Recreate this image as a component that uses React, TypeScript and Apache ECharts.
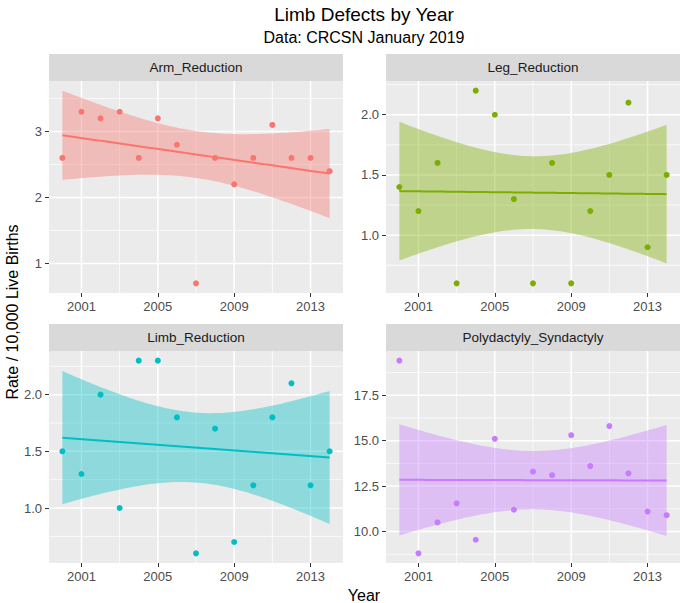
import React, { useEffect, useRef } from "react";
import * as echarts from "echarts";

// ---- data ----
const years = [2000, 2001, 2002, 2003, 2004, 2005, 2006, 2007, 2008, 2009, 2010, 2011, 2012, 2013, 2014];
const armReduction = [2.6, 3.3, 3.2, 3.3, 2.6, 3.2, 2.8, 0.7, 2.6, 2.2, 2.6, 3.1, 2.6, 2.6, 2.4];
const legReduction = [1.4, 1.2, 1.6, 0.6, 2.2, 2.0, 1.3, 0.6, 1.6, 0.6, 1.2, 1.5, 2.1, 0.9, 1.5];
const limbReduction = [1.5, 1.3, 2.0, 1.0, 2.3, 2.3, 1.8, 0.6, 1.7, 0.7, 1.2, 1.8, 2.1, 1.2, 1.5];
const polydactylySyndactyly = [19.4, 8.8, 10.5, 11.55, 9.55, 15.1, 11.2, 13.3, 13.1, 15.3, 13.6, 15.8, 13.2, 11.1, 10.9];

const panelNames = ["Arm_Reduction", "Leg_Reduction", "Limb_Reduction", "Polydactyly_Syndactyly"];
const panelValues = [armReduction, legReduction, limbReduction, polydactylySyndactyly];
const panelColors = ["#F8766D", "#7CAE00", "#00BFC4", "#C77CFF"];

const xTicks = [2001, 2005, 2009, 2013];
const xMinorTicks = [2003, 2007, 2011];
const yTicks = [
  [1, 2, 3],
  [1.0, 1.5, 2.0],
  [1.0, 1.5, 2.0],
  [10.0, 12.5, 15.0, 17.5],
];
const yMinorTicks = [
  [1.5, 2.5, 3.5],
  [0.75, 1.25, 1.75, 2.25],
  [0.75, 1.25, 1.75, 2.25],
  [8.75, 11.25, 13.75, 16.25, 18.75],
];
const yDecimals = [0, 1, 1, 1];

const chartTitle = "Limb Defects by Year";
const chartSubtitle = "Data: CRCSN January 2019";
const yAxisTitle = "Rate / 10,000 Live Births";
const xAxisTitle = "Year";

// ---- lm fit with 95% confidence band (like geom_smooth(method = "lm")) ----
const T_975_DF13 = 2.160369;
function fitBand(xs: number[], ys: number[], steps = 80) {
  const n = xs.length;
  const xbar = xs.reduce((a, b) => a + b, 0) / n;
  const ybar = ys.reduce((a, b) => a + b, 0) / n;
  let sxx = 0, sxy = 0;
  for (let i = 0; i < n; i++) {
    sxx += (xs[i] - xbar) ** 2;
    sxy += (xs[i] - xbar) * (ys[i] - ybar);
  }
  const slope = sxy / sxx;
  const icpt = ybar - slope * xbar;
  let sse = 0;
  for (let i = 0; i < n; i++) sse += (ys[i] - (icpt + slope * xs[i])) ** 2;
  const s = Math.sqrt(sse / (n - 2));
  const x0 = xs[0], x1 = xs[n - 1];
  const lower: number[][] = [], upper: number[][] = [], fit: number[][] = [];
  let lo = Infinity, hi = -Infinity;
  for (let k = 0; k < steps; k++) {
    const x = x0 + ((x1 - x0) * k) / (steps - 1);
    const yh = icpt + slope * x;
    const h = T_975_DF13 * s * Math.sqrt(1 / n + (x - xbar) ** 2 / sxx);
    lower.push([x, yh - h]);
    upper.push([x, yh + h]);
    fit.push([x, yh]);
    lo = Math.min(lo, yh - h);
    hi = Math.max(hi, yh + h);
  }
  lo = Math.min(lo, ...ys);
  hi = Math.max(hi, ...ys);
  const pad = (hi - lo) * 0.05;
  return { lower, upper, fit, yMin: lo - pad, yMax: hi + pad };
}

const FONT = "'Liberation Sans', Arial, Helvetica, sans-serif";

export default function App() {
  const ref = useRef<HTMLDivElement>(null);
  useEffect(() => {
    if (!ref.current) return;
    const chart = echarts.init(ref.current, undefined, { renderer: "svg" });

    const cols = [49, 386];
    const rows = [81, 351];
    const pw = 294;
    const ph = 212;
    const stripH = 27;
    const xMin = years[0] - 0.7;
    const xMax = years[years.length - 1] + 0.7;

    const grids: any[] = [];
    const xAxes: any[] = [];
    const yAxes: any[] = [];
    const series: any[] = [];
    const graphics: any[] = [];

    panelNames.forEach((name, i) => {
      const left = cols[i % 2];
      const top = rows[Math.floor(i / 2)];
      const band = fitBand(years, panelValues[i]);
      const color = panelColors[i];

      grids.push({
        left, top, width: pw, height: ph,
        show: true, backgroundColor: "#EBEBEB", borderWidth: 0, containLabel: false,
      });
      xAxes.push({
        type: "value", gridIndex: i, min: xMin, max: xMax,
        axisLine: { show: false },
        axisTick: { show: true, length: 4, customValues: xTicks, lineStyle: { color: "#333333", width: 1 } },
        axisLabel: {
          customValues: xTicks, margin: 7, color: "#4D4D4D", fontSize: 13, fontFamily: FONT,
          formatter: (v: number) => String(Math.round(v)),
        },
        splitLine: { show: false },
      });
      yAxes.push({
        type: "value", gridIndex: i, min: band.yMin, max: band.yMax,
        axisLine: { show: false },
        axisTick: { show: true, length: 4, customValues: yTicks[i], lineStyle: { color: "#333333", width: 1 } },
        axisLabel: {
          customValues: yTicks[i], margin: 7, color: "#4D4D4D", fontSize: 13, fontFamily: FONT,
          formatter: (v: number) => v.toFixed(yDecimals[i]),
        },
        splitLine: { show: false },
      });

      const yMinorList = yMinorTicks[i];
      const yMajorList = yTicks[i];
      // grid lines (drawn through the axis scales)
      series.push({
        type: "custom", xAxisIndex: i, yAxisIndex: i, z: 1, silent: true, clip: true,
        data: [[xMin, band.yMin]],
        renderItem: (params: any, api: any) => {
          const cs = params.coordSys;
          const children: any[] = [];
          const vline = (v: number, w: number) => {
            const px = api.coord([v, band.yMin])[0];
            children.push({
              type: "line", shape: { x1: px, y1: cs.y, x2: px, y2: cs.y + cs.height },
              style: { stroke: "#FFFFFF", lineWidth: w },
            });
          };
          const hline = (v: number, w: number) => {
            const py = api.coord([xMin, v])[1];
            children.push({
              type: "line", shape: { x1: cs.x, y1: py, x2: cs.x + cs.width, y2: py },
              style: { stroke: "#FFFFFF", lineWidth: w },
            });
          };
          xMinorTicks.forEach((v) => vline(v, 0.75));
          yMinorList.forEach((v) => hline(v, 0.75));
          xTicks.forEach((v) => vline(v, 1.5));
          yMajorList.forEach((v) => hline(v, 1.5));
          return { type: "group", children };
        },
      });
      // confidence band
      series.push({
        type: "custom", xAxisIndex: i, yAxisIndex: i, z: 2, silent: true, clip: true,
        data: [[years[0], band.fit[0][1]]],
        renderItem: (_params: any, api: any) => {
          const pts = [
            ...band.upper.map((p) => api.coord(p)),
            ...band.lower.slice().reverse().map((p) => api.coord(p)),
          ];
          return {
            type: "polygon", shape: { points: pts },
            style: { fill: color, opacity: 0.4 },
          };
        },
      });
      // fit line
      series.push({
        type: "line", xAxisIndex: i, yAxisIndex: i, data: band.fit, symbol: "none",
        lineStyle: { color, width: 2 }, silent: true, z: 3,
      });
      // points
      series.push({
        type: "scatter", xAxisIndex: i, yAxisIndex: i,
        data: years.map((y, k) => [y, panelValues[i][k]]),
        symbolSize: 6, itemStyle: { color, opacity: 1 }, z: 4,
      });

      // strip
      graphics.push({
        type: "rect", shape: { x: left, y: top - stripH, width: pw, height: stripH },
        style: { fill: "#D9D9D9" }, silent: true,
      });
      graphics.push({
        type: "text", x: left + pw / 2, y: top - stripH / 2,
        style: {
          text: name, fill: "#1A1A1A", fontSize: 13.5, fontFamily: FONT,
          textAlign: "center", textVerticalAlign: "middle",
        },
        silent: true,
      });
    });

    graphics.push({
      type: "text", x: 364, y: 14,
      style: { text: chartTitle, fill: "#000000", fontSize: 19, fontFamily: FONT, textAlign: "center", textVerticalAlign: "middle" },
    });
    graphics.push({
      type: "text", x: 364, y: 37,
      style: { text: chartSubtitle, fill: "#000000", fontSize: 16, fontFamily: FONT, textAlign: "center", textVerticalAlign: "middle" },
    });
    graphics.push({
      type: "text", x: 12, y: 312, rotation: Math.PI / 2,
      style: { text: yAxisTitle, fill: "#000000", fontSize: 16, fontFamily: FONT, textAlign: "center", textVerticalAlign: "middle" },
    });
    graphics.push({
      type: "text", x: 364, y: 595,
      style: { text: xAxisTitle, fill: "#000000", fontSize: 16, fontFamily: FONT, textAlign: "center", textVerticalAlign: "middle" },
    });

    chart.setOption({
      animation: false,
      backgroundColor: "#FFFFFF",
      grid: grids,
      xAxis: xAxes,
      yAxis: yAxes,
      series,
      graphic: graphics,
    });
    return () => chart.dispose();
  }, []);

  return <div ref={ref} style={{ position: "fixed", left: 0, top: 0, width: 684, height: 603 }} />;
}
